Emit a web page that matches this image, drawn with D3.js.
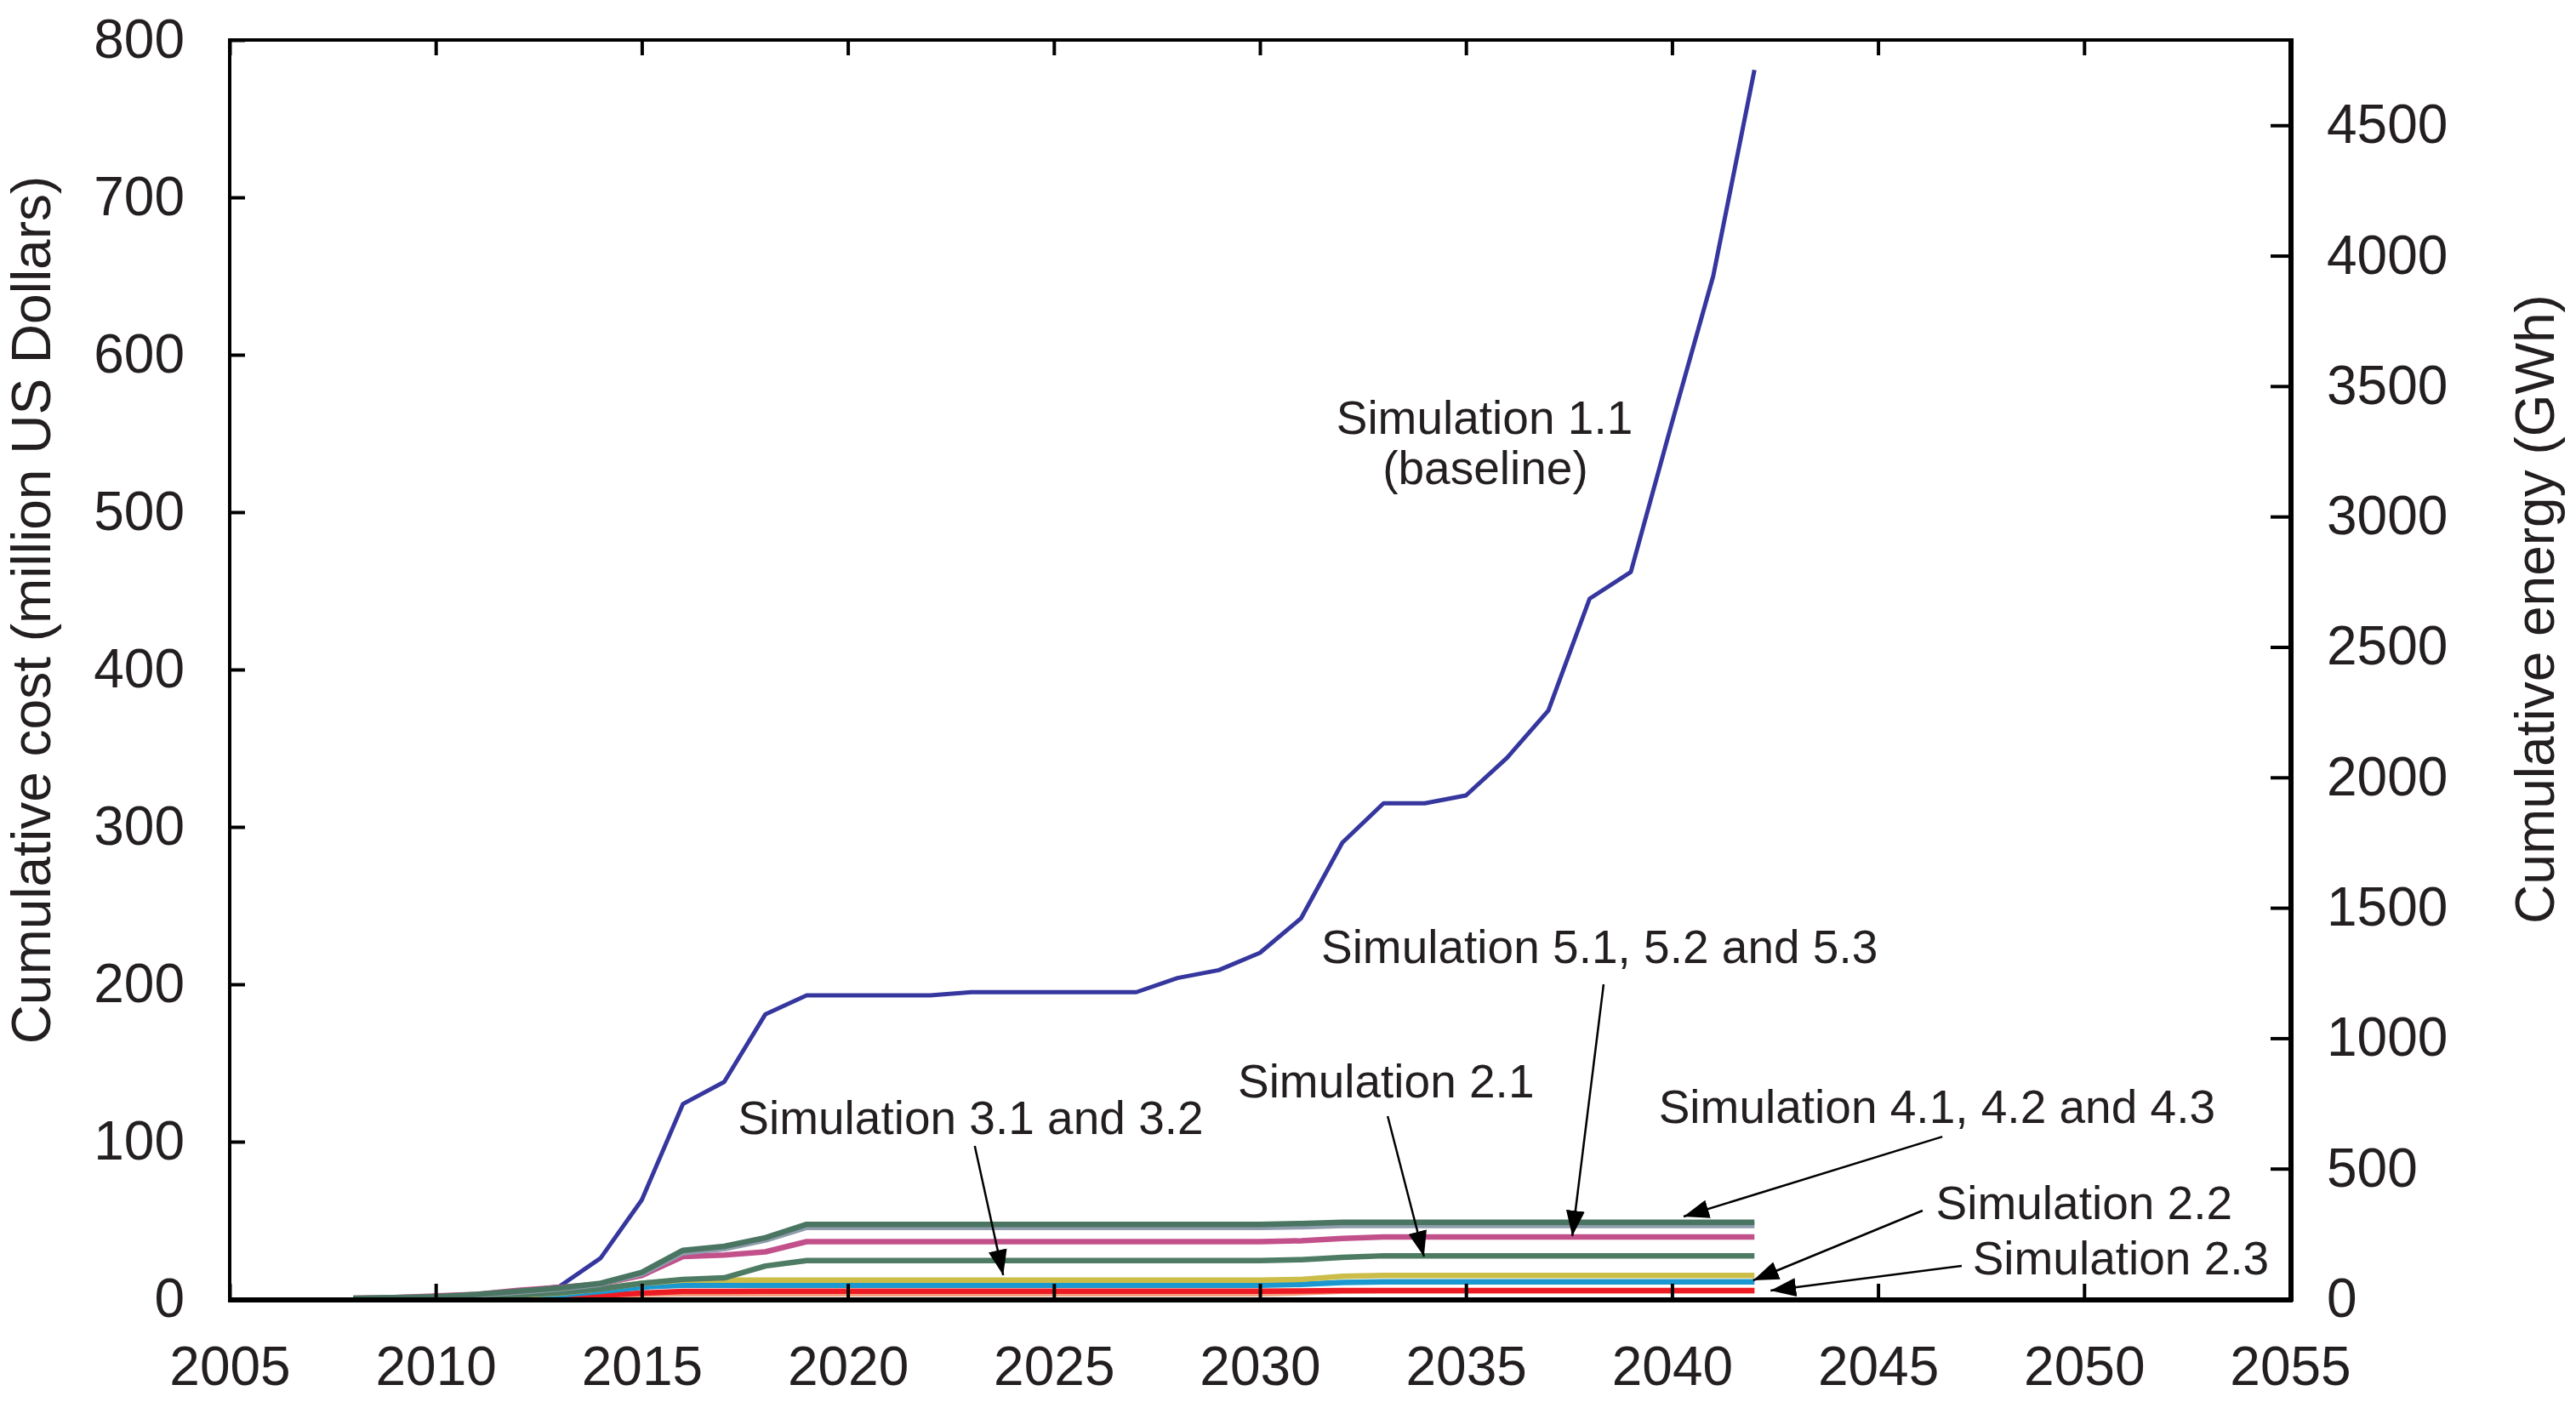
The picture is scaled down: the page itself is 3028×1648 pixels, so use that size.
<!DOCTYPE html>
<html>
<head>
<meta charset="utf-8">
<script src="https://cdn.jsdelivr.net/npm/d3@7"></script>
<style>
body { margin: 0; background: #fff; }
text { font-family: "Liberation Sans", Arial, sans-serif; fill: #231f20; }
</style>
</head>
<body>
<svg id="chart" width="3028" height="1648"></svg>
<script>
// years on the x axis
var years = [2008, 2009, 2010, 2011, 2012, 2013, 2014, 2015, 2016, 2017, 2018, 2019,
  2020, 2021, 2022, 2023, 2024, 2025, 2026, 2027, 2028, 2029, 2030,
  2031, 2032, 2033, 2034, 2035, 2036, 2037, 2038, 2039, 2040, 2041, 2042];

// cumulative cost, million US dollars
var sim11 = [0, 0.5, 1, 2.5, 5, 8, 26, 63, 124, 138, 181, 193,
  193, 193, 193, 195, 195, 195, 195, 195, 204, 209, 220,
  242, 290, 315, 315, 320, 344, 374, 445, 462, 557, 650, 781];
var sim4a = [0.5, 1, 1.5, 3, 5, 7, 10, 17, 31, 33.5, 39, 47.5,
  47.5, 47.5, 47.5, 47.5, 47.5, 47.5, 47.5, 47.5, 47.5, 47.5, 47.5,
  48, 48.8, 48.8, 48.8, 48.8, 48.8, 48.8, 48.8, 48.8, 48.8, 48.8, 48.8];
var sim4b = [0.3, 0.8, 1.3, 2.6, 4.5, 6.5, 9.5, 16, 29.5, 32, 37.5, 45.6,
  45.6, 45.6, 45.6, 45.6, 45.6, 45.6, 45.6, 45.6, 45.6, 45.6, 45.6,
  46, 46.8, 46.8, 46.8, 46.8, 46.8, 46.8, 46.8, 46.8, 46.8, 46.8, 46.8];
var sim5 = [0.5, 1, 2, 3, 5.5, 7.5, 9.5, 15, 27, 28, 30, 36.5,
  36.5, 36.5, 36.5, 36.5, 36.5, 36.5, 36.5, 36.5, 36.5, 36.5, 36.5,
  37, 38.5, 39.5, 39.5, 39.5, 39.5, 39.5, 39.5, 39.5, 39.5, 39.5, 39.5];
var sim21 = [0, 0.3, 0.8, 1.5, 2.5, 4, 6.5, 10, 12.5, 13.5, 21, 24.5,
  24.5, 24.5, 24.5, 24.5, 24.5, 24.5, 24.5, 24.5, 24.5, 24.5, 24.5,
  25, 26.5, 27.5, 27.5, 27.5, 27.5, 27.5, 27.5, 27.5, 27.5, 27.5, 27.5];
var sim31 = [0, 0.2, 0.5, 1, 2.3, 3.8, 6.5, 10, 12, 12, 12, 12,
  12, 12, 12, 12, 12, 12, 12, 12, 12, 12, 12,
  12.5, 14.5, 15, 15, 15, 15, 15, 15, 15, 15, 15, 15];
var sim22 = [0, 0.2, 0.4, 0.8, 1.5, 2.5, 4.9, 7.6, 8.8, 8.8, 8.8, 8.8,
  8.8, 8.8, 8.8, 8.8, 8.8, 8.8, 8.8, 8.8, 8.8, 8.8, 8.8,
  9.3, 10.5, 11, 11, 11, 11, 11, 11, 11, 11, 11, 11];
var sim23 = [0, 0.1, 0.3, 0.5, 0.8, 1.4, 2.3, 3.8, 4.9, 4.9, 5, 5,
  5, 5, 5, 5, 5, 5, 5, 5, 5, 5, 5,
  5.2, 5.4, 5.4, 5.4, 5.4, 5.4, 5.4, 5.4, 5.4, 5.4, 5.4, 5.4];
var sim23b = [0, 0.1, 0.2, 0.4, 0.6, 1, 1.8, 3, 3.4, 3.4, 3.4, 3.4,
  3.4, 3.4, 3.4, 3.4, 3.4, 3.4, 3.4, 3.4, 3.4, 3.4, 3.4,
  4, 5, 5.3, 5.3, 5.3, 5.3, 5.3, 5.3, 5.3, 5.3, 5.3, 5.3];

// tick labels
var xTicks = [2005, 2010, 2015, 2020, 2025, 2030, 2035, 2040, 2045, 2050, 2055];
var costTicks = [0, 100, 200, 300, 400, 500, 600, 700, 800];
var energyTicks = [0, 500, 1000, 1500, 2000, 2500, 3000, 3500, 4000, 4500];

var svg = d3.select('#chart');
var pLeft = 270, pRight = 2692, pTop = 47, pBottom = 1527;

var x = d3.scaleLinear().domain([2005, 2055]).range([pLeft, pRight]);
var yL = d3.scaleLinear().domain([0, 800]).range([pBottom, pTop]);
var yR = d3.scaleLinear().domain([0, 4827]).range([pBottom, pTop]);

// arrow head
svg.append('defs').append('marker')
  .attr('id', 'ah')
  .attr('markerUnits', 'userSpaceOnUse')
  .attr('markerWidth', 32).attr('markerHeight', 22)
  .attr('refX', 30).attr('refY', 11)
  .attr('orient', 'auto')
  .append('path')
  .attr('d', 'M0,0 L30,11 L0,22 Z')
  .attr('fill', '#000');

// lines
var line = d3.line()
  .x(function(d, i) { return x(years[i]); })
  .y(function(d) { return yL(d); });

var series = [
  {vals: sim11, color: '#35369e', w: 5},
  {vals: sim23b, color: '#f4a07f', w: 6.5},
  {vals: sim23, color: '#ed1c24', w: 6.5},
  {vals: sim22, color: '#1b98cf', w: 6.5},
  {vals: sim31, color: '#cbbd48', w: 6.5},
  {vals: sim21, color: '#4d7b63', w: 6.5},
  {vals: sim5, color: '#c2508a', w: 6.5},
  {vals: sim4b, color: '#8e9cab', w: 6.5},
  {vals: sim4a, color: '#4a7562', w: 6.5}
];

svg.append('g')
  .selectAll('path')
  .data(series)
  .join('path')
  .attr('d', function(d) { return line(d.vals); })
  .attr('fill', 'none')
  .attr('stroke', function(d) { return d.color; })
  .attr('stroke-width', function(d) { return d.w; })
  .attr('stroke-linejoin', 'round');

// axes
var xAxis = svg.append('g')
  .attr('transform', 'translate(0,' + pBottom + ')')
  .call(d3.axisBottom(x).tickValues(xTicks).tickFormat(d3.format('d'))
    .tickSizeInner(-18).tickSizeOuter(0).tickPadding(56));

var topAxis = svg.append('g')
  .attr('transform', 'translate(0,' + pTop + ')')
  .call(d3.axisTop(x).tickValues(xTicks).tickFormat('')
    .tickSizeInner(-18).tickSizeOuter(0));

var lAxis = svg.append('g')
  .attr('transform', 'translate(' + pLeft + ',0)')
  .call(d3.axisLeft(yL).tickValues(costTicks).tickFormat(d3.format('d'))
    .tickSizeInner(-18).tickSizeOuter(0).tickPadding(53));

var rAxis = svg.append('g')
  .attr('transform', 'translate(' + pRight + ',0)')
  .call(d3.axisRight(yR).tickValues(energyTicks).tickFormat(d3.format('d'))
    .tickSizeInner(-23).tickSizeOuter(0).tickPadding(43));

[xAxis, topAxis, lAxis, rAxis].forEach(function(a) {
  a.select('.domain').remove();
  a.selectAll('line').attr('stroke', '#000').attr('stroke-width', 4);
  a.selectAll('text')
    .style('font-family', '"Liberation Sans", Arial, sans-serif')
    .style('font-size', '64px')
    .attr('fill', '#231f20');
});

// frame
svg.append('rect')
  .attr('x', pLeft).attr('y', pTop)
  .attr('width', pRight - pLeft).attr('height', pBottom - pTop)
  .attr('fill', 'none').attr('stroke', '#000').attr('stroke-width', 4);
svg.append('line')
  .attr('x1', pLeft - 2).attr('x2', pRight + 3).attr('y1', pBottom + 1).attr('y2', pBottom + 1)
  .attr('stroke', '#000').attr('stroke-width', 6);
svg.append('line')
  .attr('x1', pRight + 1).attr('x2', pRight + 1).attr('y1', pTop - 2).attr('y2', pBottom + 3)
  .attr('stroke', '#000').attr('stroke-width', 6);

// axis titles
svg.append('text')
  .attr('transform', 'translate(59,717) rotate(-90)')
  .attr('text-anchor', 'middle')
  .style('font-size', '64px')
  .text('Cumulative cost (million US Dollars)');

svg.append('text')
  .attr('transform', 'translate(3002,716) rotate(-90)')
  .attr('text-anchor', 'middle')
  .style('font-size', '64px')
  .text('Cumulative energy (GWh)');

// annotations, placed in data units
var notes = [
  {t: 'Simulation 1.1', yr: 2035.45, v: 550},
  {t: '(baseline)', yr: 2035.47, v: 517.8},
  {t: 'Simulation 5.1, 5.2 and 5.3', yr: 2038.24, v: 213.5},
  {t: 'Simulation 2.1', yr: 2033.06, v: 128.1},
  {t: 'Simulation 4.1, 4.2 and 4.3', yr: 2046.43, v: 111.9},
  {t: 'Simulation 3.1 and 3.2', yr: 2022.98, v: 104.9},
  {t: 'Simulation 2.2', yr: 2050.0, v: 50.8},
  {t: 'Simulation 2.3', yr: 2050.89, v: 15.7}
];

svg.append('g')
  .selectAll('text')
  .data(notes)
  .join('text')
  .attr('x', function(d) { return x(d.yr); })
  .attr('y', function(d) { return yL(d.v); })
  .attr('text-anchor', 'middle')
  .style('font-size', '55px')
  .text(function(d) { return d.t; });

var arrows = [
  {y0: 2038.34, v0: 200, y1: 2037.58, v1: 40},
  {y0: 2033.1, v0: 116.2, y1: 2033.98, v1: 27},
  {y0: 2046.56, v0: 103.2, y1: 2040.28, v1: 52.4},
  {y0: 2023.08, v0: 97.3, y1: 2023.77, v1: 15.1},
  {y0: 2046.08, v0: 56.2, y1: 2041.97, v1: 11.9},
  {y0: 2047.03, v0: 21.1, y1: 2042.39, v1: 5.4}
];

svg.append('g')
  .selectAll('line')
  .data(arrows)
  .join('line')
  .attr('x1', function(d) { return x(d.y0); })
  .attr('y1', function(d) { return yL(d.v0); })
  .attr('x2', function(d) { return x(d.y1); })
  .attr('y2', function(d) { return yL(d.v1); })
  .attr('stroke', '#000')
  .attr('stroke-width', 2.5)
  .attr('marker-end', 'url(#ah)');
</script>
</body>
</html>
